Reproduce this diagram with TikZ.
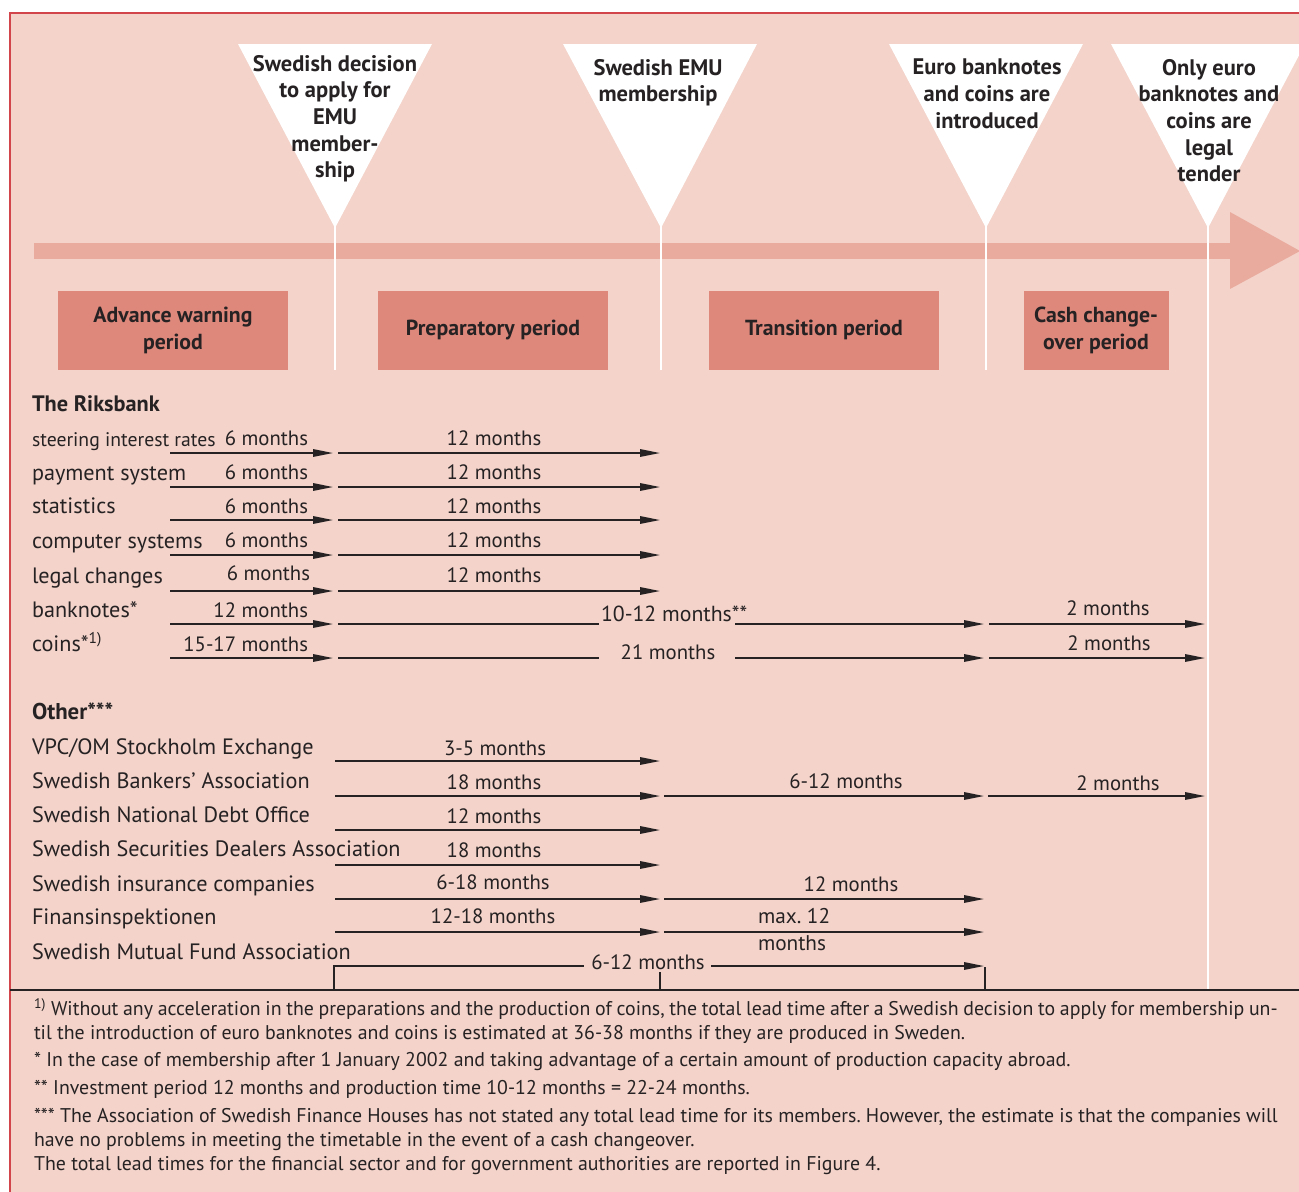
\documentclass[tikz,border=0pt]{standalone}
\usepackage{fontspec}
\setmainfont{PT Sans}
\usepackage{tikz}
\usetikzlibrary{arrows.meta}
\definecolor{bgpink}{HTML}{F3D3CA}
\definecolor{bandpink}{HTML}{EAAB9F}
\definecolor{boxpink}{HTML}{DE887C}
\definecolor{framered}{HTML}{D2464B}
\definecolor{ink}{HTML}{262223}
\frenchspacing
\begin{document}
\begin{tikzpicture}[x=0.02cm,y=-0.02cm,
  every node/.style={inner sep=0pt,outer sep=0pt,text=ink,font=\fontsize{11.8}{15}\selectfont},
  event/.style={anchor=north,align=center,font=\fontsize{12.8}{15.2}\selectfont\bfseries},
  period/.style={align=center,font=\fontsize{12.4}{15.4}\selectfont\bfseries},
  head/.style={anchor=base west,font=\fontsize{12.7}{15}\selectfont\bfseries},
  row/.style={anchor=base west,font=\fontsize{12.65}{15}\selectfont},
  dur/.style={anchor=base},
  durr/.style={anchor=base east},
  note/.style={anchor=base west,font=\fontsize{11.3}{13}\selectfont},
  span/.style={draw=ink,line width=0.9pt,-{Triangle[length=0.4cm,width=0.15cm]}},
  plain/.style={draw=ink,line width=0.9pt}]

  % Page and frame
  \useasboundingbox (0,0) rectangle (1299,1191);
  \clip (0,0) rectangle (1299,1191);
  \fill[bgpink] (10,13) rectangle (1305,1195);
  \draw[framered,line width=1.6pt] (10,1195) -- (10,13) -- (1305,13);

  % Time band
  \fill[bandpink] (34,243) rectangle (1231,259);
  \fill[bandpink] (1230,212) -- (1300,251) -- (1230,289) -- cycle;

  % Event markers
  \fill[white] (238,44) -- (432,44) -- (335,228) -- cycle;
  \fill[white] (563,44) -- (757,44) -- (661,228) -- cycle;
  \fill[white] (889,44) -- (1083,44) -- (986,228) -- cycle;
  \fill[white] (1111,44) -- (1305,44) -- (1208,228) -- cycle;
  \draw[white,line width=1.6pt] (335,226) -- (335,370);
  \draw[white,line width=1.6pt] (661,226) -- (661,370);
  \draw[white,line width=1.6pt] (986,226) -- (986,370);
  \draw[white,line width=1.6pt] (1208,226) -- (1208,990);

  \node[event] (dec) at (335,55) {Swedish decision\\to apply for\\EMU\\member-\\ship};
  \node[event] (emu) at (658,59) {Swedish EMU\\membership};
  \node[event] (euro) at (987,59) {Euro banknotes\\and coins are\\introduced};
  \node[event] (legal) at (1209,59) {Only euro\\banknotes and\\coins are\\legal\\tender};

  % Periods
  \fill[boxpink] (58,291) rectangle (288,370);
  \fill[boxpink] (378,291) rectangle (608,370);
  \fill[boxpink] (709,291) rectangle (939,370);
  \fill[boxpink] (1024,291) rectangle (1169,370);
  \node[period] (adv) at (173,330) {Advance warning\\period};
  \node[period] (prep) at (493,330) {Preparatory period};
  \node[period] (trans) at (824,330) {Transition period};
  \node[period] (cash) at (1096,330) {Cash change-\\over period};

  % The Riksbank
  \node[head] (rb) at (32,411) {The Riksbank};

  \node[row,font=\fontsize{11.2}{15}\selectfont] (steer) at (32,446) {steering interest rates};
  \draw[span] (170,453) -- (333,453);
  \draw[span] (338,453) -- (660,453);
  \node[durr] (steer-a) at (308,445) {6 months};
  \node[dur] (steer-b) at (494,445) {12 months};

  \node[row] (pay) at (32,480) {payment system};
  \draw[span] (170,487) -- (333,487);
  \draw[span] (338,487) -- (660,487);
  \node[durr] (pay-a) at (308,479) {6 months};
  \node[dur] (pay-b) at (494,479) {12 months};

  \node[row] (stat) at (32,513) {statistics};
  \draw[span] (170,520) -- (333,520);
  \draw[span] (338,520) -- (660,520);
  \node[durr] (stat-a) at (308,513) {6 months};
  \node[dur] (stat-b) at (494,513) {12 months};

  \node[row] (comp) at (32,548) {computer systems};
  \draw[span] (170,555) -- (333,555);
  \draw[span] (338,555) -- (660,555);
  \node[durr] (comp-a) at (308,547) {6 months};
  \node[dur] (comp-b) at (494,547) {12 months};

  \node[row] (law) at (32,583) {legal changes};
  \draw[span] (170,591) -- (333,591);
  \draw[span] (338,591) -- (660,591);
  \node[durr] (law-a) at (310,580) {6 months};
  \node[dur] (law-b) at (494,582) {12 months};

  \node[row] (notes) at (32,617) {banknotes*};
  \draw[span] (170,624) -- (333,624);
  \draw[plain] (338,624) -- (599,624);
  \draw[span] (735,624) -- (984,624);
  \draw[span] (989,624) -- (1205,624);
  \node[durr] (notes-a) at (308,617) {12 months};
  \node[row,font=\fontsize{12.4}{15}\selectfont] (notes-b) at (601,621) {10-12 months**};
  \node[dur] (notes-c) at (1108,615) {2 months};

  \node[row] (coins) at (32,651) {coins*\textsuperscript{1)}};
  \draw[span] (170,658) -- (333,658);
  \draw[plain] (338,658) -- (599,658);
  \draw[span] (735,658) -- (984,658);
  \draw[span] (989,658) -- (1205,658);
  \node[durr] (coins-a) at (308,651) {15-17 months};
  \node[dur] (coins-b) at (668,659) {21 months};
  \node[dur] (coins-c) at (1109,650) {2 months};

  % Other
  \node[head,font=\fontsize{13}{15}\selectfont\bfseries] (oth) at (32,719) {Other***};

  \node[row] (vpc) at (32,754) {VPC/OM Stockholm Exchange};
  \draw[span] (335,761) -- (660,761);
  \node[dur] (vpc-a) at (495,755) {3-5 months};

  \node[row] (sba) at (32,788) {Swedish Bankers’ Association};
  \draw[span] (335,796) -- (660,796);
  \draw[span] (664,796) -- (984,796);
  \draw[span] (988,796) -- (1205,796);
  \node[dur] (sba-a) at (494,789) {18 months};
  \node[dur] (sba-b) at (846,788) {6-12 months};
  \node[dur] (sba-c) at (1118,790) {2 months};

  \node[row] (debt) at (32,822) {Swedish National Debt Office};
  \draw[span] (335,830) -- (660,830);
  \node[dur] (debt-a) at (494,823) {12 months};

  \node[row] (sda) at (32,856) {Swedish Securities Dealers Association};
  \draw[span] (335,865) -- (660,865);
  \node[dur] (sda-a) at (494,857) {18 months};

  \node[row] (ins) at (32,891) {Swedish insurance companies};
  \draw[span] (335,899) -- (660,899);
  \draw[span] (664,899) -- (984,899);
  \node[dur] (ins-a) at (493,889) {6-18 months};
  \node[dur] (ins-b) at (851,891) {12 months};

  \node[row] (fi) at (32,924) {Finansinspektionen};
  \draw[span] (335,932) -- (660,932);
  \draw[span] (664,932) -- (984,932);
  \node[dur] (fi-a) at (493,923) {12-18 months};
  \node[row,font=\fontsize{12.1}{15}\selectfont] (fi-b) at (758,923) {max. 12};
  \node[row,font=\fontsize{12.1}{15}\selectfont] (fi-c) at (758,950) {months};

  \node[row] (fund) at (32,959) {Swedish Mutual Fund Association};
  \draw[plain] (334,990) -- (334,966) -- (584,966);
  \draw[span] (711,966) -- (984,966);
  \draw[plain] (660,972) -- (660,990);
  \draw[plain] (985,967) -- (985,990);
  \node[dur] (fund-a) at (648,969) {6-12 months};

  % Notes
  \draw[ink,line width=0.9pt] (10,990) -- (1305,990);
  \node[note] (n1) at (34,1015) {\makebox[24.88cm][s]{\textsuperscript{1)} Without any acceleration in the preparations and the production of coins, the total lead time after a Swedish decision to apply for membership un-}};
  \node[note] (n2) at (34,1039) {til the introduction of euro banknotes and coins is estimated at 36-38 months if they are produced in Sweden.};
  \node[note] (n3) at (34,1066) {* In the case of membership after 1 January 2002 and taking advantage of a certain amount of production capacity abroad.};
  \node[note] (n4) at (34,1094) {** Investment period 12 months and production time 10-12 months = 22-24 months.};
  \node[note] (n5) at (34,1122) {\makebox[24.88cm][s]{*** The Association of Swedish Finance Houses has not stated any total lead time for its members. However, the estimate is that the companies will}};
  \node[note] (n6) at (34,1146) {have no problems in meeting the timetable in the event of a cash changeover.};
  \node[note] (n7) at (34,1170) {The total lead times for the financial sector and for government authorities are reported in Figure 4.};
\end{tikzpicture}
\end{document}
